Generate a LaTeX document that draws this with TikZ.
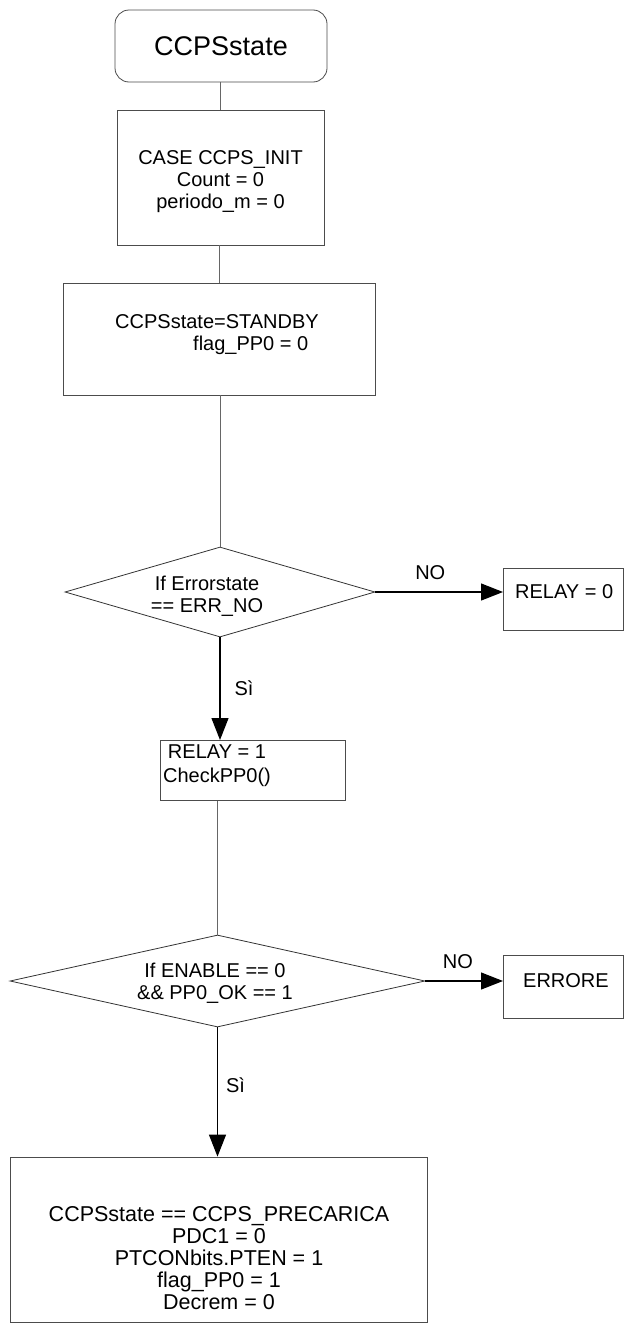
\documentclass[tikz,border=0pt]{standalone}
\usepackage{fontspec}
\setmainfont{Liberation Sans}
\usetikzlibrary{shapes.geometric,arrows.meta}

\tikzset{
  box/.style={draw=black!70, line width=0.8pt, fill=white, inner sep=0pt, align=center,
    font=\fontsize{20}{22}\selectfont},
  cond/.style={diamond, draw=black!80, line width=0.8pt, inner sep=0pt},
  txt/.style={font=\fontsize{20}{22}\selectfont, align=center, inner sep=0pt},
  link/.style={draw=black!60, line width=0.8pt},
  yes/.style={draw=black, line width=1.2pt, -{Triangle[length=22pt,width=17pt]}},
  lbl/.style={font=\fontsize{20}{22}\selectfont, inner sep=4pt},
}

\begin{document}
\begin{tikzpicture}[x=1pt,y=-1pt]
    \clip (0,0) rectangle (626,1328);

    % Start
    \node[box, rounded corners=14pt, minimum width=212pt, minimum height=72pt,
      font=\fontsize{27}{30}\selectfont] (start) at (221,46) {CCPSstate};

    % Init
    \node[box, minimum width=207pt, minimum height=135pt] (init) at (220.5,177.5) {};
    \node[txt] (inittxt) at (220.5,182) {CASE CCPS\_INIT\\Count = 0\\periodo\_m = 0};
    \node[box, minimum width=312pt, minimum height=112pt, align=left] (standby) at (219,339) {};
    \node[txt, align=left] (standbytxt) at (217,334.5)
      {CCPSstate=STANDBY\\\hspace*{78pt}flag\_PP0 = 0};
    \draw[link] (start.south -| init.north) -- (init.north);
    \draw[link] (init.south -| standby.north) -- (standby.north);

    % First check
    \node[cond, minimum width=310pt, minimum height=90pt] (err) at (220,592) {};
    \node[txt] (errtxt) at (207,596) {If Errorstate\\== ERR\_NO};
    \node[box, anchor=north west, minimum width=120pt, minimum height=62pt] (relayoff) at (503,568) {};
    \node[txt, anchor=west] (relayofftxt) at (515,592) {RELAY = 0};
    \draw[link] (err.north |- standby.south) -- (err.north);
    \draw[yes] (err.east) -- node[lbl, above=8pt, pos=0.43] (no1) {NO} (err.east -| relayoff.west);

    \node[box, anchor=north west, minimum width=185pt, minimum height=60pt] (relayon) at (160,740) {};
    \node[txt, font=\fontsize{20}{24}\selectfont] (relayontxt) at (217,766) {RELAY = 1\\CheckPP0()};
    \draw[yes] (err.south) -- node[lbl, right=10pt, pos=0.5] (si1) {Sì} (err.south |- relayon.north);

    % Second check
    \node[cond, minimum width=415pt, minimum height=92pt] (en) at (217.5,981) {};
    \node[txt] (entxt) at (215,983) {If ENABLE == 0\\\&\& PP0\_OK == 1};
    \node[box, anchor=north west, minimum width=120pt, minimum height=63pt] (errore) at (503,955) {};
    \node[txt, anchor=west] (erroretxt) at (523,981) {ERRORE};
    \draw[link] (en.north |- relayon.south) -- (en.north);
    \draw[yes] (en.east) -- node[lbl, above=8pt, pos=0.42] (no2) {NO} (en.east -| errore.west);

    \node[box, minimum width=417pt, minimum height=165pt] (precarica) at (218.5,1239.5) {};
    \node[txt, font=\fontsize{21.5}{22}\selectfont] (precaricatxt) at (219,1258)
      {CCPSstate == CCPS\_PRECARICA\\PDC1 = 0\\PTCONbits.PTEN = 1\\flag\_PP0 = 1\\Decrem = 0};
    \draw[yes] (en.south) -- node[lbl, right=4pt, pos=0.45] (si2) {Sì} (en.south |- precarica.north);
\end{tikzpicture}
\end{document}
